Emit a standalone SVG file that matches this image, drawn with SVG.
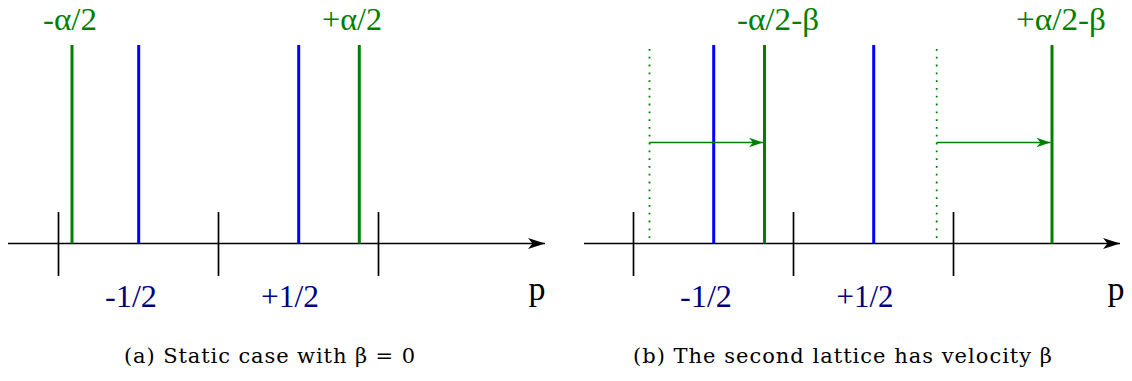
<svg xmlns="http://www.w3.org/2000/svg" width="1132" height="381" viewBox="0 0 1132 381">
<style>
.axis{stroke:#000;stroke-width:1.7;fill:none}
.tick{stroke:#000;stroke-width:1.7}
.g{stroke:#008000;stroke-width:3}
.b{stroke:#0000ff;stroke-width:3}
.dot{stroke:#008000;stroke-width:1.8;stroke-dasharray:1.8 6}
.conn{stroke:#008000;stroke-width:1.7;fill:none}
.lbl{font-size:32px;text-anchor:middle}
.lg{fill:#008000}
.lb{fill:#000080}
.p{font-size:34px;text-anchor:middle;fill:#000}
.cap{font-size:21px;text-anchor:middle;fill:#000}
</style>
<defs>
<marker id="ax" markerUnits="userSpaceOnUse" markerWidth="20" markerHeight="14" refX="17" refY="7" orient="auto" overflow="visible">
<path d="M17,7 L0,1.5 L4.5,7 L0,12.5 Z" fill="#000"/>
</marker>
<marker id="ga" markerUnits="userSpaceOnUse" markerWidth="16" markerHeight="12" refX="14" refY="6" orient="auto" overflow="visible">
<path d="M14,6 L0,1.3 L4,6 L0,10.7 Z" fill="#008000"/>
</marker>
</defs>

<g id="panel-a">
<g id="axis-a">
<line class="axis" x1="8" y1="243.5" x2="545" y2="243.5" marker-end="url(#ax)"/>
<line class="tick" x1="58.5" y1="212" x2="58.5" y2="276"/>
<line class="tick" x1="218.5" y1="212" x2="218.5" y2="276"/>
<line class="tick" x1="378.5" y1="212" x2="378.5" y2="276"/>
<text class="p" font-family="Liberation Serif, serif" x="537" y="300">p</text>
</g>
<g id="a-green-minus">
<line class="g" x1="72" y1="45" x2="72" y2="243.5"/>
<text class="lbl lg" font-family="Liberation Serif, serif" x="70" y="30" textLength="54" lengthAdjust="spacingAndGlyphs">-α/2</text>
</g>
<g id="a-blue-minus">
<line class="b" x1="138.7" y1="45" x2="138.7" y2="243.5"/>
<text class="lbl lb" font-family="Liberation Serif, serif" x="131" y="307" textLength="52" lengthAdjust="spacingAndGlyphs">-1/2</text>
</g>
<g id="a-blue-plus">
<line class="b" x1="298.7" y1="45" x2="298.7" y2="243.5"/>
<text class="lbl lb" font-family="Liberation Serif, serif" x="290" y="307" textLength="58" lengthAdjust="spacingAndGlyphs">+1/2</text>
</g>
<g id="a-green-plus">
<line class="g" x1="359.3" y1="45" x2="359.3" y2="243.5"/>
<text class="lbl lg" font-family="Liberation Serif, serif" x="352" y="30" textLength="60" lengthAdjust="spacingAndGlyphs">+α/2</text>
</g>
<text class="cap" font-family="DejaVu Serif, Liberation Serif, serif" x="269.5" y="363" textLength="291" lengthAdjust="spacing">(a) Static case with β = 0</text>
</g>

<g id="panel-b">
<g id="axis-b">
<line class="axis" x1="584" y1="243.5" x2="1120" y2="243.5" marker-end="url(#ax)"/>
<line class="tick" x1="633.5" y1="212" x2="633.5" y2="276"/>
<line class="tick" x1="793.5" y1="212" x2="793.5" y2="276"/>
<line class="tick" x1="953.5" y1="212" x2="953.5" y2="276"/>
<text class="p" font-family="Liberation Serif, serif" x="1116" y="300">p</text>
</g>
<g id="b-dotted-minus">
<line class="dot" x1="649.5" y1="49" x2="649.5" y2="243.5"/>
</g>
<g id="b-blue-minus">
<line class="b" x1="713.7" y1="45" x2="713.7" y2="243.5"/>
<text class="lbl lb" font-family="Liberation Serif, serif" x="706" y="307" textLength="52" lengthAdjust="spacingAndGlyphs">-1/2</text>
</g>
<g id="b-green-minus">
<line class="g" x1="764.5" y1="45" x2="764.5" y2="243.5"/>
<text class="lbl lg" font-family="Liberation Serif, serif" x="778" y="30" textLength="82" lengthAdjust="spacingAndGlyphs">-α/2-β</text>
</g>
<g id="b-blue-plus">
<line class="b" x1="873.7" y1="45" x2="873.7" y2="243.5"/>
<text class="lbl lb" font-family="Liberation Serif, serif" x="865" y="307" textLength="57" lengthAdjust="spacingAndGlyphs">+1/2</text>
</g>
<g id="b-dotted-plus">
<line class="dot" x1="936.7" y1="49" x2="936.7" y2="243.5"/>
</g>
<g id="b-green-plus">
<line class="g" x1="1052" y1="45" x2="1052" y2="243.5"/>
<text class="lbl lg" font-family="Liberation Serif, serif" x="1061" y="30" textLength="90" lengthAdjust="spacingAndGlyphs">+α/2-β</text>
</g>
<text class="cap" font-family="DejaVu Serif, Liberation Serif, serif" x="842.5" y="363" textLength="419" lengthAdjust="spacing">(b) The second lattice has velocity β</text>
</g>

<g id="connectors">
<line class="conn" x1="649.5" y1="142.5" x2="763" y2="142.5" marker-end="url(#ga)"/>
<line class="conn" x1="936.7" y1="142.5" x2="1050.5" y2="142.5" marker-end="url(#ga)"/>
</g>
</svg>
